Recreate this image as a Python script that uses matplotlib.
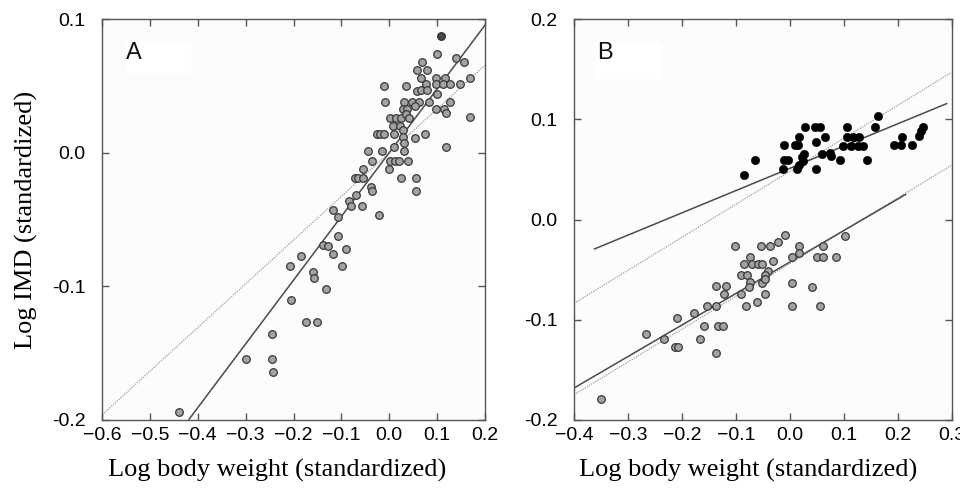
import matplotlib
matplotlib.use("Agg")
import matplotlib.pyplot as plt
from matplotlib.patches import Rectangle
import numpy as np

# ---------------- data ----------------
# Panel A: grey points
a_x = [0.100, 0.139, 0.157, 0.069, 0.057, 0.078, 0.067, 0.097, 0.117, 0.169,
       -0.012, 0.036, 0.076, 0.097, 0.112, 0.126, 0.148, 0.057, 0.066, 0.078,
       0.099, -0.008, 0.031, 0.047, 0.062, 0.083, 0.126, 0.054, 0.028, 0.037,
       0.097, 0.114, 0.119, 0.169, 0.001, 0.014, 0.024, 0.035, 0.041, 0.007,
       0.022, 0.028, -0.026, -0.019, -0.012, 0.010, 0.028, 0.054, 0.075, 0.119,
       0.010, 0.031, -0.045, -0.015, 0.031, -0.035, 0.002, 0.012, 0.021, 0.039,
       0.000, 0.024, 0.055, 0.055, -0.054, -0.071, -0.066, -0.054, -0.038, -0.037,
       -0.070, -0.084, -0.079, -0.057, -0.022, -0.118, -0.107, -0.107, -0.139, -0.128,
       -0.090, -0.185, -0.117, -0.208, -0.099, -0.160, -0.157, -0.132, -0.205, -0.174,
       -0.150, -0.244, -0.300, -0.244, -0.242, -0.440]
a_y = [0.074, 0.071, 0.068, 0.068, 0.062, 0.062, 0.056, 0.056, 0.056, 0.056,
       0.050, 0.050, 0.051, 0.051, 0.051, 0.051, 0.051, 0.046, 0.047, 0.047,
       0.044, 0.038, 0.038, 0.038, 0.038, 0.038, 0.038, 0.035, 0.033, 0.033,
       0.033, 0.033, 0.030, 0.027, 0.026, 0.026, 0.026, 0.029, 0.026, 0.020,
       0.020, 0.017, 0.014, 0.014, 0.014, 0.014, 0.012, 0.011, 0.014, 0.004,
       0.004, 0.007, 0.001, 0.001, 0.001, -0.006, -0.006, -0.006, -0.006, -0.006,
       -0.012, -0.019, -0.019, -0.029, -0.012, -0.019, -0.019, -0.019, -0.026, -0.029,
       -0.032, -0.036, -0.040, -0.040, -0.047, -0.043, -0.048, -0.062, -0.069, -0.070,
       -0.072, -0.077, -0.076, -0.085, -0.085, -0.089, -0.094, -0.102, -0.110, -0.127,
       -0.127, -0.136, -0.154, -0.154, -0.164, -0.194]
# Panel A: highlighted (dark) point
a_dark_x = [0.108]
a_dark_y = [0.087]

# Panel A regression lines (slope, intercept, x-range)
a_solid = dict(slope=0.477, intercept=0.0, x0=-0.418, x1=0.2)
a_dotted = dict(slope=0.327, intercept=0.0, x0=-0.6, x1=0.2)

# Panel B: grey points (lower group)
bg_x = [-0.009, 0.102, -0.102, -0.054, -0.036, -0.021, 0.017, 0.062, -0.074, 0.004,
        0.017, 0.051, 0.062, 0.086, -0.084, -0.070, -0.059, -0.052, -0.031, -0.091,
        -0.080, -0.074, -0.075, -0.040, -0.046, -0.051, -0.045, -0.136, -0.119, -0.122,
        -0.091, -0.045, -0.081, -0.060, 0.004, 0.041, 0.004, 0.057, -0.154, -0.136,
        -0.178, -0.209, -0.159, -0.133, -0.123, -0.267, -0.233, -0.167, -0.213, -0.208,
        -0.136, -0.350]
bg_y = [-0.015, -0.016, -0.026, -0.026, -0.026, -0.022, -0.026, -0.026, -0.037, -0.037,
        -0.033, -0.037, -0.037, -0.037, -0.044, -0.044, -0.044, -0.044, -0.041, -0.055,
        -0.055, -0.062, -0.067, -0.051, -0.055, -0.063, -0.059, -0.066, -0.066, -0.074,
        -0.074, -0.074, -0.086, -0.082, -0.063, -0.067, -0.086, -0.086, -0.086, -0.086,
        -0.093, -0.098, -0.106, -0.106, -0.106, -0.114, -0.119, -0.119, -0.127, -0.127,
        -0.133, -0.179]
# Panel B: black points (upper group)
bb_x = [0.164, 0.159, 0.028, 0.046, 0.057, 0.107, 0.017, 0.065, 0.107, 0.117,
        0.129, 0.208, 0.247, 0.243, 0.240, -0.010, 0.009, 0.016, 0.049, 0.098,
        0.114, 0.127, 0.136, 0.194, 0.206, 0.227, 0.027, 0.022, 0.059, 0.074,
        0.077, -0.065, -0.010, -0.003, 0.025, 0.093, 0.144, -0.084, -0.012, 0.014,
        0.017, 0.048]
bb_y = [0.103, 0.092, 0.092, 0.092, 0.092, 0.092, 0.082, 0.082, 0.082, 0.082,
        0.082, 0.082, 0.092, 0.088, 0.083, 0.074, 0.074, 0.074, 0.077, 0.073,
        0.073, 0.073, 0.073, 0.074, 0.074, 0.074, 0.065, 0.062, 0.065, 0.066,
        0.063, 0.059, 0.059, 0.059, 0.058, 0.059, 0.059, 0.044, 0.050, 0.050,
        0.054, 0.050]

# Panel B regression lines
b_black_solid = dict(slope=0.222, intercept=0.051, x0=-0.362, x1=0.291)
b_black_dotted = dict(slope=0.329, intercept=0.048, x0=-0.4, x1=0.3)
b_grey_solid = dict(slope=0.314, intercept=-0.0425, x0=-0.4, x1=0.215)
b_grey_dotted = dict(slope=0.327, intercept=-0.044, x0=-0.4, x1=0.3)

# ticks
a_xticks = [-0.6, -0.5, -0.4, -0.3, -0.2, -0.1, 0.0, 0.1, 0.2]
a_xticklabels = ['\u22120.6', '\u22120.5', '\u22120.4', '\u22120.3', '\u22120.2', '\u22120.1', '0.0', '0.1', '0.2']
a_yticks = [-0.2, -0.1, 0.0, 0.1]
a_yticklabels = ['-0.2', '-0.1', '0.0', '0.1']
b_xticks = [-0.4, -0.3, -0.2, -0.1, 0.0, 0.1, 0.2, 0.3]
b_xticklabels = ['\u22120.4', '\u22120.3', '\u22120.2', '\u22120.1', '0.0', '0.1', '0.2', '0.3']
b_yticks = [-0.2, -0.1, 0.0, 0.1, 0.2]
b_yticklabels = ['-0.2', '-0.1', '0.0', '0.1', '0.2']

xlabel = 'Log body weight (standardized)'
ylabel = 'Log IMD (standardized)'

# ---------------- plot ----------------
W, H = 960, 492
fig = plt.figure(figsize=(W / 100, H / 100), dpi=100)
fig.patch.set_facecolor('white')

axA = fig.add_axes([102 / W, 1 - 420 / H, (485 - 102) / W, (420 - 19) / H])
axB = fig.add_axes([574 / W, 1 - 420 / H, (951.5 - 574) / W, (420 - 19) / H])

GREY_FACE = '#a2a2a2'
GREY_EDGE = '#383838'
SOLID_C = '#4a4a4a'
DOT_C = '#9a9a9a'
tick_font = dict(family=['Liberation Sans', 'DejaVu Sans'], size=14)
label_font = dict(family=['Liberation Serif', 'DejaVu Serif'], size=19)


def draw_line(ax, p, style):
    xs = np.array([p['x0'], p['x1']])
    ax.plot(xs, p['slope'] * xs + p['intercept'], **style, zorder=2)


solid_style = dict(color=SOLID_C, lw=1.1, ls='-')
dot_style = dict(color=DOT_C, lw=0.9, ls=(0, (1, 1)))


def style_axes(ax, xlim, ylim, xt, xtl, yt, ytl, label_x):
    ax.set_facecolor('#fcfcfc')
    ax.set_xlim(*xlim)
    ax.set_ylim(*ylim)
    ax.set_xticks(xt)
    ax.set_xticklabels(xtl, fontdict=tick_font)
    ax.set_yticks(yt)
    ax.set_yticklabels(ytl, fontdict=tick_font)
    ax.tick_params(direction='in', length=5, width=1, color='#555555',
                   top=True, right=True, labeltop=False, labelright=False)
    ax.tick_params(axis='x', pad=5)
    ax.tick_params(axis='y', pad=12)
    for s in ax.spines.values():
        s.set_color('#555555')
        s.set_linewidth(1.0)
    ax.set_xlabel(xlabel, fontdict=label_font)
    ax.xaxis.set_label_coords(label_x, -0.098)


# Panel A
style_axes(axA, (-0.6, 0.2), (-0.2, 0.1), a_xticks, a_xticklabels, a_yticks, a_yticklabels, 0.457)
draw_line(axA, a_dotted, dot_style)
draw_line(axA, a_solid, solid_style)
axA.scatter(a_x, a_y, s=30, c=GREY_FACE, edgecolors=GREY_EDGE, linewidths=0.9, zorder=3)
axA.scatter(a_dark_x, a_dark_y, s=30, c='#4a4a4a', edgecolors='#2a2a2a', linewidths=0.9, zorder=3)
axA.add_patch(Rectangle((0.063, 0.862), 0.17, 0.08, transform=axA.transAxes,
                        facecolor='white', edgecolor='none', zorder=1))
axA.text(0.063, 0.914, 'A', transform=axA.transAxes, ha='left', va='center',
         fontsize=17, family=['Liberation Sans', 'DejaVu Sans'], color='#111111', zorder=4)
axA.set_ylabel(ylabel, fontdict=label_font, labelpad=10)

# Panel B
style_axes(axB, (-0.4, 0.3), (-0.2, 0.2), b_xticks, b_xticklabels, b_yticks, b_yticklabels, 0.46)
draw_line(axB, b_black_dotted, dot_style)
draw_line(axB, b_grey_dotted, dot_style)
draw_line(axB, b_black_solid, solid_style)
draw_line(axB, b_grey_solid, solid_style)
axB.scatter(bg_x, bg_y, s=30, c=GREY_FACE, edgecolors=GREY_EDGE, linewidths=0.9, zorder=3)
axB.scatter(bb_x, bb_y, s=36, c='black', edgecolors='black', linewidths=0.4, zorder=3)
axB.add_patch(Rectangle((0.058, 0.851), 0.172, 0.09, transform=axB.transAxes,
                        facecolor='white', edgecolor='none', zorder=1))
axB.text(0.06, 0.914, 'B', transform=axB.transAxes, ha='left', va='center',
         fontsize=17, family=['Liberation Sans', 'DejaVu Sans'], color='#111111', zorder=4)

fig.savefig('out.png', dpi=100, facecolor='white')
